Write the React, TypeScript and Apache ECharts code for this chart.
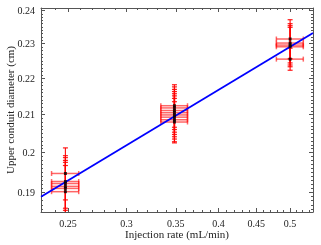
import React, { useEffect, useRef } from "react";
import * as echarts from "echarts";

// Axis ticks (real units)
const xTickLabels = [0.25, 0.3, 0.35, 0.4, 0.45, 0.5];
const yTickLabels = [0.19, 0.2, 0.21, 0.22, 0.23, 0.24];
const xMinorTicks = [0.23, 0.24, 0.26, 0.27, 0.28, 0.29, 0.31, 0.32, 0.33, 0.34, 0.36, 0.37, 0.38, 0.39, 0.41, 0.42, 0.43, 0.44, 0.46, 0.47, 0.48, 0.49, 0.51, 0.52, 0.53];
const yMinorTicks: number[] = [];
for (let i = 186; i <= 240; i++) if (i % 10 !== 0) yMinorTicks.push(i / 1000);

const xRange = [0.2298, 0.537];
const yRange = [0.1853, 0.2408];

// Measurements: injection rate (mL/min) groups
const rates = [0.248, 0.3485, 0.5];
const rateErr = [0.0105, 0.0145, 0.021];
const lowRateDiam = [0.1947, 0.1927, 0.1922, 0.1915, 0.191, 0.1902];
const lowRateDiamErr = [0.0065, 0.0065, 0.0065, 0.0065, 0.0065, 0.0065];
const midRateDiam = [0.2124, 0.2118, 0.2111, 0.2105, 0.2099, 0.2093, 0.2086, 0.208];
const midRateDiamErr = [0.0058, 0.0058, 0.0058, 0.0058, 0.0058, 0.0058, 0.0058, 0.0055];
const highRateDiam = [0.2314, 0.2302, 0.2296, 0.2291, 0.2255];
const highRateDiamErr = [0.0058, 0.0058, 0.0058, 0.0058, 0.0032];

// Power-law fit line (end points)
const fitX = [0.2298, 0.537];
const fitY = [0.18895, 0.2332];

const FONT = "Liberation Serif";
const AX = "#555";

export default function App() {
  const ref = useRef<HTMLDivElement>(null);
  useEffect(() => {
    if (!ref.current) return;
    const chart = echarts.init(ref.current, undefined, { renderer: "svg" });
    const L = Math.log;
    const groups = [
      [lowRateDiam, lowRateDiamErr],
      [midRateDiam, midRateDiamErr],
      [highRateDiam, highRateDiamErr],
    ];
    const pts: number[][] = [];
    groups.forEach(([ys, es], g) => {
      ys.forEach((y, i) => {
        const x = rates[g];
        const xe = rateErr[g];
        const ye = es[i];
        pts.push([L(x), L(y), L(x - xe), L(x + xe), L(y - ye), L(y + ye)]);
      });
    });
    const fmt = (v: number) => String(Number(Math.exp(v).toFixed(3)));
    const xMin = L(xRange[0]), xMax = L(xRange[1]);
    const yMin = L(yRange[0]), yMax = L(yRange[1]);
    const xMaj = xTickLabels.map(L), yMaj = yTickLabels.map(L);
    const xMin2 = xMinorTicks.map(L), yMin2 = yMinorTicks.map(L);

    const base = (min: number, max: number, position: string) => ({
      type: "value",
      min,
      max,
      position,
      gridIndex: 0,
      splitLine: { show: false },
      axisLine: { show: false, onZero: false },
      axisLabel: { show: false },
      axisTick: { show: false },
    });
    const majorAx = (min: number, max: number, pos: string, vals: number[], labels: boolean) => ({
      ...base(min, max, pos),
      axisLine: { show: true, onZero: false, lineStyle: { color: AX, width: 1 } },
      axisTick: { show: true, inside: true, length: 4, customValues: vals, lineStyle: { color: AX, width: 1 } },
      axisLabel: {
        show: labels,
        customValues: vals,
        formatter: fmt,
        fontSize: 10,
        fontFamily: FONT,
        color: "#222",
        margin: 6,
      },
    });
    const minorAx = (min: number, max: number, pos: string, vals: number[]) => ({
      ...base(min, max, pos),
      axisTick: { show: true, inside: true, length: 2, customValues: vals, lineStyle: { color: AX, width: 1 } },
    });

    const errStyleH = { stroke: "rgba(255,0,0,0.6)", lineWidth: 1.5 };
    const errStyleV = { stroke: "rgba(255,0,0,0.9)", lineWidth: 1.2 };

    chart.setOption({
      animation: false,
      grid: { left: 41, right: 8, top: 8, bottom: 33, containLabel: false, outerBoundsMode: "none" },
      xAxis: [
        {
          ...majorAx(xMin, xMax, "bottom", xMaj, true),
          name: "Injection rate (mL/min)",
          nameLocation: "middle",
          nameGap: 16,
          nameMoveOverlap: false,
          nameTextStyle: { fontFamily: FONT, fontSize: 11, color: "#222" },
        },
        minorAx(xMin, xMax, "bottom", xMin2),
        majorAx(xMin, xMax, "top", xMaj, false),
        minorAx(xMin, xMax, "top", xMin2),
      ],
      yAxis: [
        {
          ...majorAx(yMin, yMax, "left", yMaj, true),
          name: "Upper conduit diameter (cm)",
          nameLocation: "middle",
          nameGap: 26,
          nameMoveOverlap: false,
          nameTextStyle: { fontFamily: FONT, fontSize: 11, color: "#222" },
        },
        minorAx(yMin, yMax, "left", yMin2),
        majorAx(yMin, yMax, "right", yMaj, false),
        minorAx(yMin, yMax, "right", yMin2),
      ],
      series: [
        {
          type: "custom",
          clip: true,
          z: 2,
          data: pts,
          renderItem: (_p: any, api: any) => {
            const y = api.value(1);
            const a = api.coord([api.value(2), y]);
            const b = api.coord([api.value(3), y]);
            const c = 2.5;
            return {
              type: "group",
              children: [
                { type: "line", shape: { x1: a[0], y1: a[1], x2: b[0], y2: b[1] }, style: errStyleH },
                { type: "line", shape: { x1: a[0], y1: a[1] - c, x2: a[0], y2: a[1] + c }, style: errStyleH },
                { type: "line", shape: { x1: b[0], y1: b[1] - c, x2: b[0], y2: b[1] + c }, style: errStyleH },
              ],
            };
          },
          encode: { x: 0, y: 1 },
        },
        {
          type: "custom",
          clip: true,
          z: 3,
          data: pts,
          renderItem: (_p: any, api: any) => {
            const x = api.value(0);
            const a = api.coord([x, api.value(4)]);
            const b = api.coord([x, api.value(5)]);
            const c = 2.5;
            return {
              type: "group",
              children: [
                { type: "line", shape: { x1: a[0], y1: a[1], x2: b[0], y2: b[1] }, style: errStyleV },
                { type: "line", shape: { x1: a[0] - c, y1: a[1], x2: a[0] + c, y2: a[1] }, style: errStyleV },
                { type: "line", shape: { x1: b[0] - c, y1: b[1], x2: b[0] + c, y2: b[1] }, style: errStyleV },
              ],
            };
          },
          encode: { x: 0, y: 1 },
        },
        {
          type: "line",
          z: 4,
          data: fitX.map((x, i) => [L(x), L(fitY[i])]),
          symbol: "none",
          lineStyle: { color: "#0000ff", width: 1.8 },
        },
        {
          type: "scatter",
          z: 5,
          data: pts.map((p) => [p[0], p[1]]),
          symbol: "rect",
          symbolSize: 3,
          itemStyle: { color: "#000" },
        },
      ],
    });
    return () => chart.dispose();
  }, []);
  return <div ref={ref} style={{ position: "fixed", left: 0, top: 0, width: 321, height: 245 }} />;
}
